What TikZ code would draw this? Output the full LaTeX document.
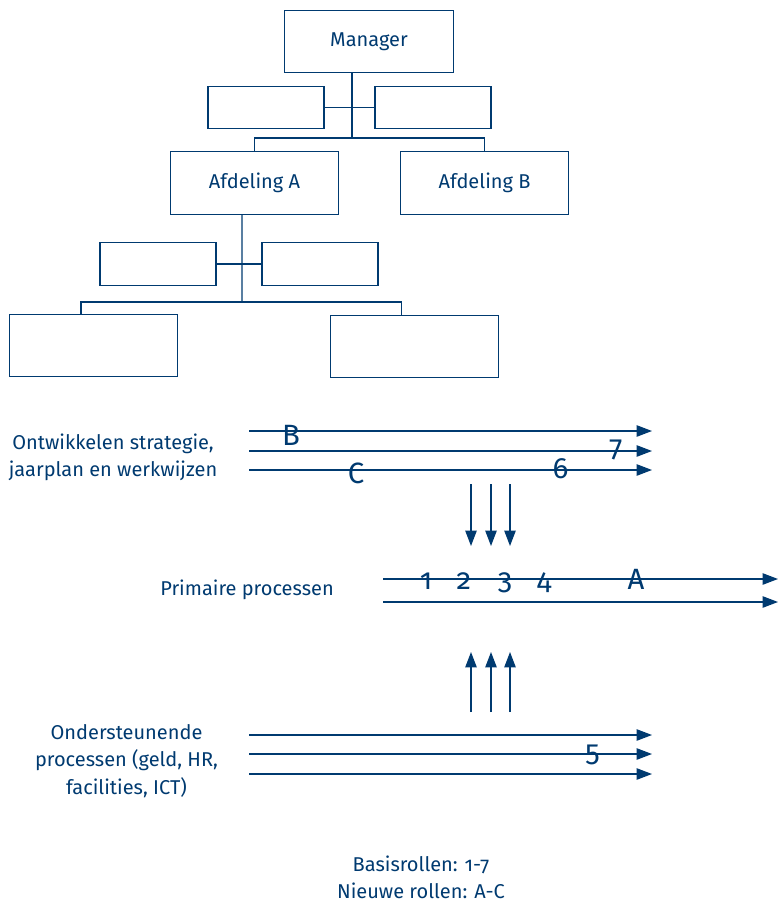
\documentclass[tikz,border=0pt]{standalone}
\usepackage{fontspec}
\setmainfont{Fira Sans}[Numbers=OldStyle]
\usepackage{tikz}
\usetikzlibrary{arrows.meta,positioning}
\definecolor{orgnavy}{RGB}{0,58,112}
\tikzstyle{lbl} = [text=orgnavy, font=\fontsize{15}{20.5}\selectfont, align=center]
\tikzstyle{orgbox} = [draw=orgnavy, line width=0.9pt, inner sep=0pt, lbl]
\tikzstyle{bigbox} = [orgbox, minimum width=126.5pt, minimum height=47pt]
\tikzstyle{staffbox} = [orgbox, minimum width=87pt, minimum height=32pt]
\tikzstyle{orgline} = [draw=orgnavy, line width=0.9pt]
\tikzstyle{flow} = [draw=orgnavy, line width=1pt, -{Triangle[length=11.5pt,width=8.5pt]}]
\tikzstyle{rol} = [text=orgnavy, font=\fontsize{22}{22}\selectfont, inner sep=0pt]

\begin{document}
\begin{tikzpicture}[x=0.75pt, y=-0.75pt]
\useasboundingbox (0,0) rectangle (778,905);

% Organigram
\node[bigbox] (mgr) at (369,41.5) {\raisebox{-2pt}{Manager}};
\node[staffbox] (stL) at (266,107.5) {};
\node[staffbox] (stR) at (433,107.5) {};
\node[bigbox] (afdA) at (254.5,183) {Afdeling A};
\node[bigbox] (afdB) at (484.5,183) {Afdeling B};
\node[staffbox] (subL) at (158,264) {};
\node[staffbox] (subR) at (320,264) {};
\node[bigbox] (botL) at (93.5,345.5) {};
\node[bigbox] (botR) at (414.5,346.5) {};

\coordinate (bar1) at (352,138);
\coordinate (bar2) at (242,302);
\draw[orgline] ([xshift=-12.75pt]mgr.south) -- (bar1);
\draw[orgline] (stL.east) -- (stR.west);
\draw[orgline] (afdA.north) |- (bar1) -| (afdB.north);
\draw[orgline] ([xshift=-9.4pt]afdA.south) -- (bar2);
\draw[orgline] (subL.east) -- (subR.west);
\draw[orgline] ([xshift=-9.4pt]botL.north) |- (bar2) -| ([xshift=-10pt]botR.north);

% Processen
\node[lbl] (ontw) at (113,457) {Ontwikkelen strategie,\\jaarplan en werkwijzen};
\node[lbl] (prim) at (247,590) {Primaire processen};
\node[lbl] (onder) at (126.5,761) {Ondersteunende\\processen (geld, HR,\\facilities, ICT)};

\foreach \i/\y in {1/431,2/451,3/470} {
  \coordinate (os\i) at (249,\y);
  \coordinate (oe\i) at (652,\y);
  \draw[flow] (os\i) -- (oe\i);
}
\foreach \i/\y in {1/579,2/602} {
  \coordinate (ps\i) at (383,\y);
  \coordinate (pe\i) at (778,\y);
  \draw[flow] (ps\i) -- (pe\i);
}
\foreach \i/\y in {1/735,2/754,3/774} {
  \coordinate (ss\i) at (249,\y);
  \coordinate (se\i) at (652,\y);
  \draw[flow] (ss\i) -- (se\i);
}
\foreach \i/\x in {1/471,2/491,3/510} {
  \coordinate (dt\i) at (\x,484);
  \coordinate (db\i) at (\x,546);
  \draw[flow] (dt\i) -- (db\i);
  \coordinate (ut\i) at (\x,652);
  \coordinate (ub\i) at (\x,712);
  \draw[flow] (ub\i) -- (ut\i);
}

% Rollen
\node[rol] (rB) at (291,435.5) {B};
\node[rol] (r7) at (616,450) {7};
\node[rol] (rC) at (356,473) {C};
\node[rol] (r6) at (560.5,469) {6};
\node[rol, anchor=base] (r1) at (426,589) {1};
\node[rol, anchor=base] (r2) at (464,589) {2};
\node[rol, anchor=base] (r3) at (505,589) {3};
\node[rol, anchor=base] (r4) at (544,589) {4};
\node[rol, anchor=base] (rA) at (636,589) {A};
\node[rol] (r5) at (592.5,755) {5};

\node[lbl] (legend) at (421,877) {Basisrollen: 1-7\\Nieuwe rollen: A-C};
\end{tikzpicture}
\end{document}
